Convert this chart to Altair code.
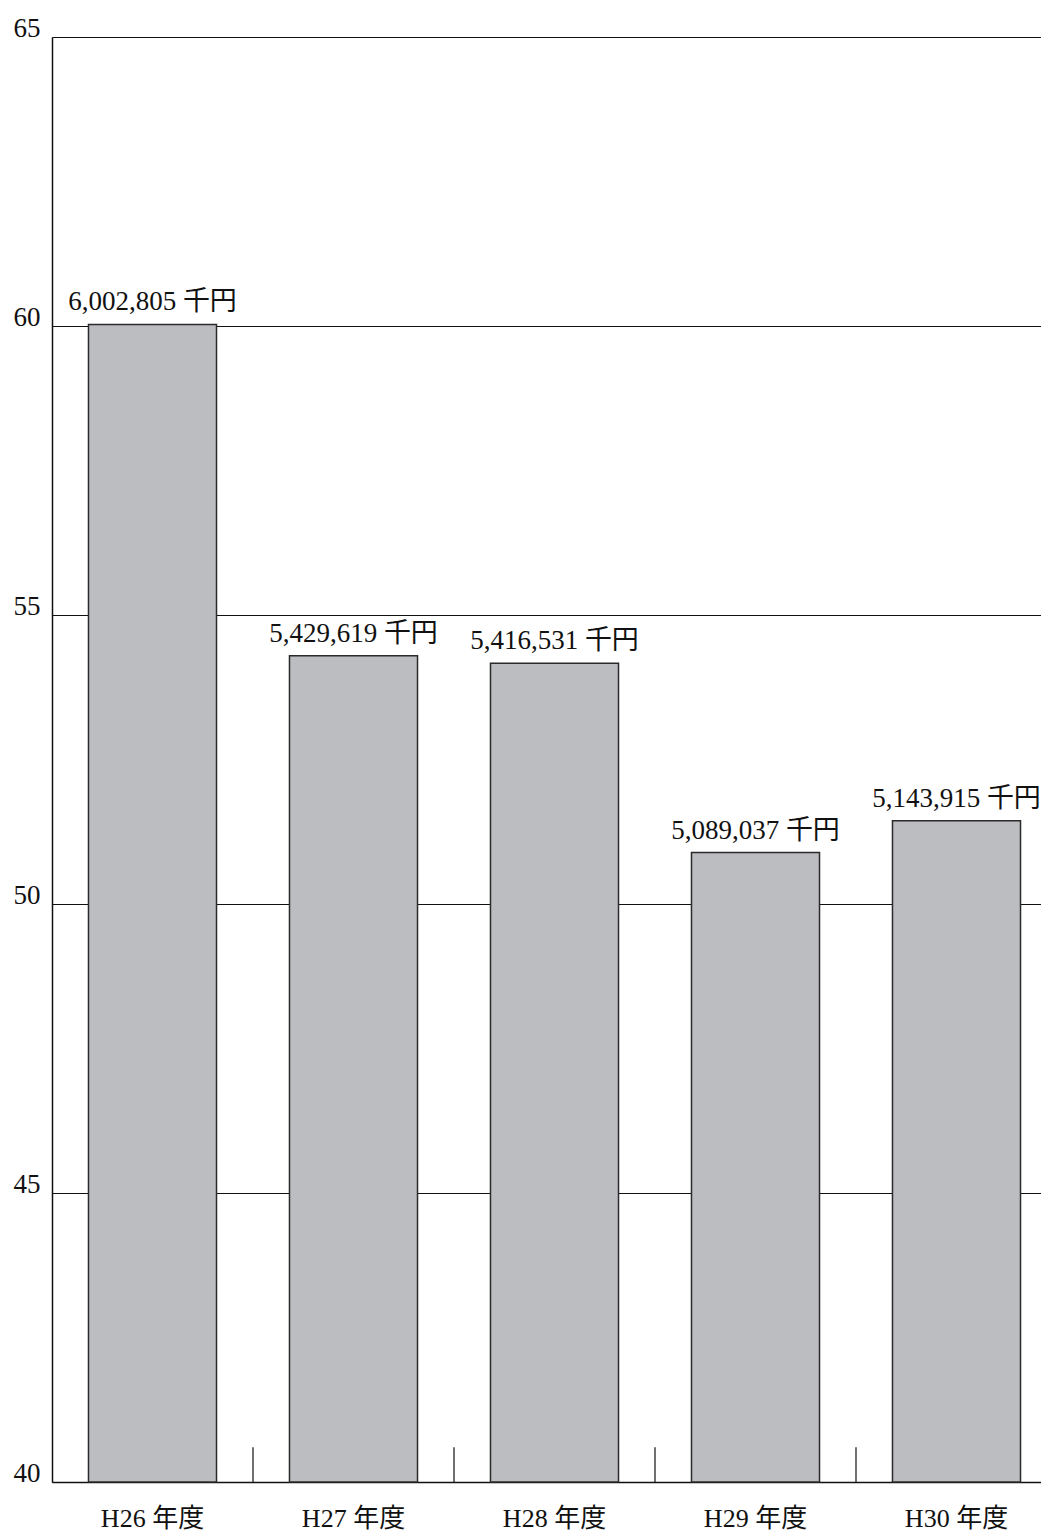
import altair as alt
import pandas as pd

years = ["H26 年度", "H27 年度", "H28 年度", "H29 年度", "H30 年度"]
values_thousand_yen = [6002805, 5429619, 5416531, 5089037, 5143915]
y_ticks = [40, 45, 50, 55, 60, 65]

df = pd.DataFrame({
    "year": years,
    "amount": [v / 100000 for v in values_thousand_yen],
    "label": [f"{v:,} 千円" for v in values_thousand_yen],
})
ticks_df = pd.DataFrame({"year": years[1:]})

FONT = "Liberation Serif, Noto Sans CJK JP"

xscale = alt.Scale(domain=years, range=[0, 1005], paddingInner=0, paddingOuter=0)
yscale = alt.Scale(domain=[40, 65], nice=False, zero=False)

base = alt.Chart(df)

bars = base.mark_bar(
    width=alt.RelativeBandSize(0.637),
    fill="#bcbdc1", stroke="#2a2a2a", strokeWidth=1.5,
).encode(
    x=alt.X("year:N", scale=xscale, sort=years,
            axis=alt.Axis(title=None, labelAngle=0, ticks=False, domain=True,
                          domainColor="#111", domainWidth=1.5,
                          labelFont=FONT, labelFontSize=26, labelColor="#111",
                          labelPadding=23, labelBaseline="top", grid=False)),
    y=alt.Y("amount:Q", scale=yscale,
            axis=alt.Axis(title=None, values=y_ticks, format="d", grid=True,
                          gridColor="#111", gridWidth=1.2, ticks=False, domain=True,
                          domainColor="#111", domainWidth=1.5, labelFont=FONT,
                          labelFontSize=27, labelColor="#111", labelPadding=12,
                          labelBaseline="alphabetic", labelOffset=-1)),
    y2=alt.datum(40),
)

text = base.mark_text(
    baseline="bottom", dy=-8, font=FONT, fontSize=27, color="#111",
).encode(
    x=alt.X("year:N", scale=xscale, sort=years),
    y=alt.Y("amount:Q", scale=yscale),
    text="label:N",
)

sep = alt.Chart(ticks_df).mark_rule(color="#111", strokeWidth=1.2).encode(
    x=alt.X("year:N", scale=xscale, sort=years, bandPosition=0),
    y=alt.datum(40),
    y2=alt.datum(40.6),
)

chart = alt.layer(bars, text, sep).properties(
    width=989, height=1445,
    autosize=alt.AutoSizeParams(type="none"),
    padding={"left": 44, "top": 29, "right": 0, "bottom": 54},
).configure_view(stroke=None).configure(background="white")

chart.save("out.html", embed_options={"renderer": "svg", "actions": False})
